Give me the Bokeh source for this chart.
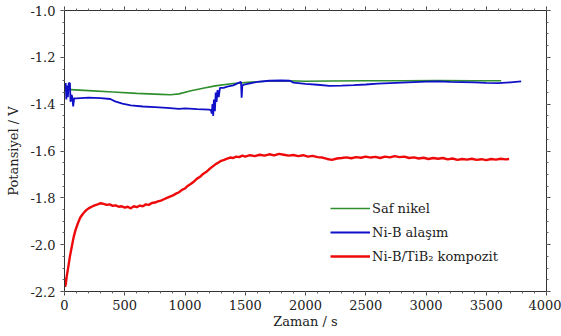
from bokeh.plotting import figure
from bokeh.models import (LinearAxis, FixedTicker, PrintfTickFormatter, Range1d,
                          Legend, LegendItem, CustomJSTickFormatter)
from bokeh.embed import file_html
from bokeh.resources import INLINE

# ---- data ----
green_t = [0, 50, 200, 400, 600, 800, 880, 950, 1050, 1150, 1250, 1400, 1550,
           1700, 1850, 2000, 2200, 2500, 2800, 3100, 3400, 3624]
green_v = [-1.330, -1.338, -1.342, -1.348, -1.354, -1.358, -1.360, -1.356, -1.343,
           -1.332, -1.322, -1.312, -1.306, -1.301, -1.300, -1.302, -1.301, -1.300,
           -1.300, -1.299, -1.300, -1.300]

blue_t = [0, 10, 15, 22, 28, 35, 45, 50, 58, 65, 72, 80, 100, 200, 300, 380, 420,
          480, 550, 650, 750, 850, 950, 1000, 1100, 1200, 1215, 1222, 1228, 1234,
          1240, 1248, 1255, 1262, 1270, 1280, 1290, 1320, 1350, 1400, 1440, 1465,
          1470, 1476, 1500, 1550, 1600, 1700, 1800, 1870, 1900, 2000, 2100, 2200,
          2300, 2400, 2500, 2600, 2700, 2800, 2900, 3000, 3100, 3200, 3300, 3400,
          3500, 3600, 3700, 3790]
blue_v = [-1.340, -1.310, -1.380, -1.320, -1.370, -1.310, -1.310, -1.390, -1.360,
          -1.370, -1.410, -1.375, -1.375, -1.372, -1.374, -1.378, -1.388, -1.398,
          -1.405, -1.410, -1.413, -1.416, -1.420, -1.418, -1.421, -1.423, -1.425,
          -1.440, -1.400, -1.450, -1.380, -1.430, -1.350, -1.390, -1.340, -1.370,
          -1.330, -1.330, -1.325, -1.320, -1.310, -1.305, -1.372, -1.320, -1.315,
          -1.310, -1.305, -1.300, -1.299, -1.300, -1.308, -1.313, -1.317, -1.322,
          -1.321, -1.319, -1.316, -1.312, -1.310, -1.308, -1.306, -1.304, -1.303,
          -1.305, -1.306, -1.307, -1.309, -1.310, -1.307, -1.303]

red_t = [0, 5, 10, 20, 30, 45, 60, 75, 90, 110, 130, 150, 175, 200, 225, 250, 275,
         300, 325, 350, 375, 400, 425, 450, 475, 500, 525, 550, 575, 600, 625, 650,
         675, 700, 725, 750, 775, 800, 825, 850, 875, 900, 925, 950, 975, 1000,
         1025, 1050, 1075, 1100, 1125, 1150, 1175, 1200, 1225, 1250, 1275, 1300,
         1325, 1350, 1375, 1400, 1425, 1450, 1475, 1500, 1540, 1580, 1620, 1660,
         1700, 1740, 1780, 1820, 1860, 1900, 1940, 1980, 2020, 2060, 2100, 2140,
         2180, 2220, 2260, 2300, 2340, 2380, 2420, 2460, 2500, 2540, 2580, 2620,
         2660, 2700, 2740, 2780, 2820, 2860, 2900, 2940, 2980, 3020, 3060, 3100,
         3140, 3180, 3220, 3260, 3300, 3340, 3380, 3420, 3460, 3500, 3540, 3580,
         3620, 3660, 3690]
red_v = [-2.140, -2.180, -2.170, -2.130, -2.100, -2.050, -2.010, -1.970, -1.940,
         -1.910, -1.885, -1.870, -1.855, -1.845, -1.838, -1.832, -1.828, -1.823,
         -1.826, -1.830, -1.828, -1.834, -1.832, -1.838, -1.836, -1.842, -1.838,
         -1.845, -1.836, -1.840, -1.833, -1.836, -1.828, -1.830, -1.822, -1.820,
         -1.815, -1.812, -1.806, -1.800, -1.795, -1.790, -1.782, -1.776, -1.766,
         -1.760, -1.748, -1.740, -1.730, -1.718, -1.710, -1.698, -1.690, -1.678,
         -1.668, -1.658, -1.650, -1.642, -1.638, -1.633, -1.628, -1.630, -1.624,
         -1.626, -1.620, -1.624, -1.618, -1.622, -1.616, -1.620, -1.614, -1.619,
         -1.612, -1.616, -1.620, -1.617, -1.622, -1.618, -1.624, -1.621, -1.626,
         -1.628, -1.634, -1.638, -1.632, -1.630, -1.627, -1.631, -1.626, -1.629,
         -1.624, -1.628, -1.625, -1.630, -1.624, -1.627, -1.622, -1.626, -1.624,
         -1.630, -1.627, -1.632, -1.629, -1.634, -1.630, -1.633, -1.630, -1.636,
         -1.632, -1.638, -1.634, -1.637, -1.633, -1.638, -1.635, -1.639, -1.634,
         -1.637, -1.633, -1.636, -1.634]

x_ticks = [0, 500, 1000, 1500, 2000, 2500, 3000, 3500, 4000]
x_minor = list(range(0, 4001, 100))
y_ticks = [-2.2, -2.0, -1.8, -1.6, -1.4, -1.2, -1.0]
y_minor = [round(-2.2 + 0.05 * i, 2) for i in range(25)]

labels = ["Saf nikel", "Ni-B alaşım", "Ni-B/TiB₂ kompozit"]
colors = ["#2f8f2f", "#1010c8", "#ee0a0a"]

FONT = "DejaVu Serif"
FS = "13px"

p = figure(width=561, height=336, output_backend="svg", toolbar_location=None,
           x_range=Range1d(0, 4000), y_range=Range1d(-2.2, -1.0),
           min_border_left=64, min_border_right=15, min_border_top=10,
           min_border_bottom=45, background_fill_color="white",
           border_fill_color="white")
p.grid.visible = False
p.outline_line_color = None

r_g = p.line(green_t, green_v, line_color=colors[0], line_width=1.6)
r_b = p.line(blue_t, blue_v, line_color=colors[1], line_width=1.8)
r_r = p.line(red_t, red_v, line_color=colors[2], line_width=2.4)

xt = FixedTicker(ticks=x_ticks, minor_ticks=x_minor)
yt = FixedTicker(ticks=y_ticks, minor_ticks=y_minor)


def style(ax):
    ax.axis_line_color = "#333333"
    ax.axis_line_width = 1
    ax.major_tick_line_color = "#444444"
    ax.minor_tick_line_color = "#666666"
    ax.major_tick_in = 0
    ax.major_tick_out = 4
    ax.minor_tick_in = 0
    ax.minor_tick_out = 2
    ax.major_label_text_font = FONT
    ax.major_label_text_font_size = FS
    ax.major_label_text_color = "#222222"
    ax.axis_label_text_font = FONT
    ax.axis_label_text_font_size = FS
    ax.axis_label_text_font_style = "normal"
    ax.axis_label_text_color = "#222222"


xa = p.xaxis[0]
xa.ticker = xt
xa.axis_label = "Zaman / s"
xa.axis_label_standoff = 1
xa.major_label_standoff = 4
style(xa)

ya = p.yaxis[0]
ya.ticker = yt
ya.formatter = PrintfTickFormatter(format="%.1f")
ya.axis_label = "Potansiyel / V"
ya.axis_label_standoff = 6
ya.major_label_standoff = 5
style(ya)

blank = CustomJSTickFormatter(code="return '';")

top = LinearAxis(ticker=FixedTicker(ticks=x_ticks, minor_ticks=x_minor),
                 formatter=blank)
style(top)
top.major_label_standoff = 0
p.add_layout(top, "above")

right = LinearAxis(ticker=FixedTicker(ticks=y_ticks, minor_ticks=y_minor),
                   formatter=blank)
style(right)
right.major_label_standoff = 0
p.add_layout(right, "right")

legend = Legend(items=[LegendItem(label=labels[0], renderers=[r_g]),
                       LegendItem(label=labels[1], renderers=[r_b]),
                       LegendItem(label=labels[2], renderers=[r_r])],
                location=(266, 25), padding=0, margin=0, spacing=4,
                glyph_width=40, glyph_height=20, label_height=20,
                label_standoff=2, border_line_color=None,
                background_fill_alpha=0,
                label_text_font=FONT, label_text_font_size=FS,
                label_text_color="#222222")
p.add_layout(legend, "center")

open("out.html", "w").write(file_html(p, INLINE))
